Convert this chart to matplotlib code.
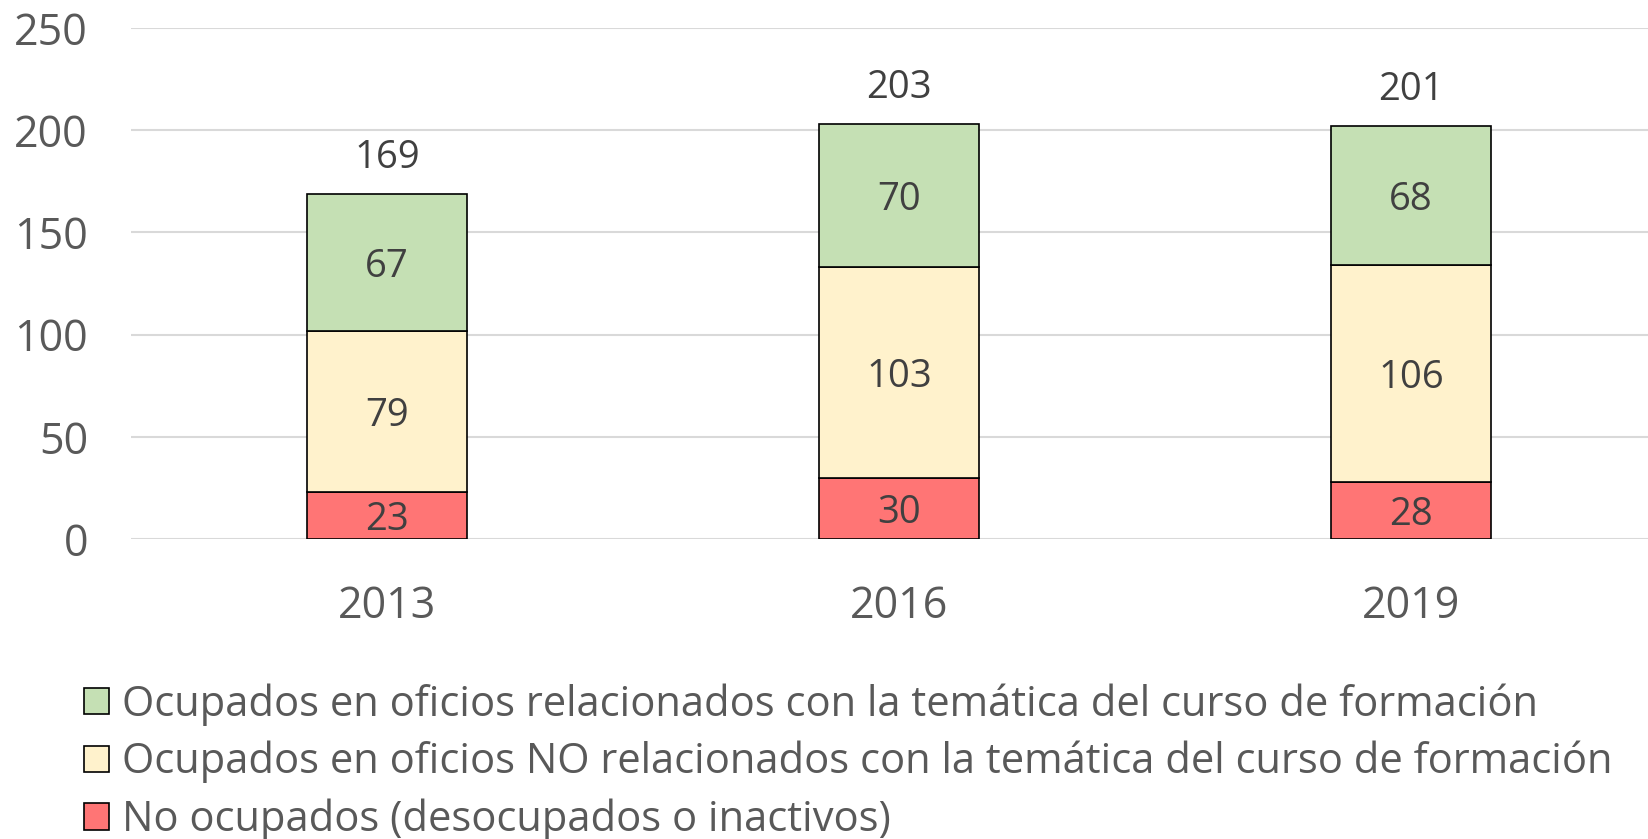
import matplotlib
matplotlib.use("Agg")
import matplotlib.pyplot as plt
import numpy as np

years = ["2013", "2016", "2019"]
no_ocupados = [23, 30, 28]
no_relacionados = [79, 103, 106]
relacionados = [67, 70, 68]
totales = [169, 203, 201]
labels = [
    "Ocupados en oficios relacionados con la temática del curso de formación",
    "Ocupados en oficios NO relacionados con la temática del curso de formación",
    "No ocupados (desocupados o inactivos)",
]
colors = ["#C5E0B4", "#FFF2CC", "#FF7575"]

plt.rcParams['font.family'] = ['Open Sans', 'DejaVu Sans']

W, H = 1648, 839
fig = plt.figure(figsize=(W / 100, H / 100), dpi=100)
ax = fig.add_axes([131 / W, 1 - 539 / H, 1 - 131 / W, (539 - 28) / H])

x = np.arange(len(years))
bw = 0.314
b1 = ax.bar(x, no_ocupados, bw, color=colors[2], edgecolor="black", linewidth=1.2, zorder=3)
b2 = ax.bar(x, no_relacionados, bw, bottom=no_ocupados, color=colors[1], edgecolor="black", linewidth=1.2, zorder=3)
bottom3 = np.array(no_ocupados) + np.array(no_relacionados)
b3 = ax.bar(x, relacionados, bw, bottom=bottom3, color=colors[0], edgecolor="black", linewidth=1.2, zorder=3)

lab_color = "#404040"
fs_lab = 27.5
fs_tick = 31
bottoms = [np.zeros(3), np.array(no_ocupados), bottom3]
for vals, bot in zip([no_ocupados, no_relacionados, relacionados], bottoms):
    for xi, v, b in zip(x, vals, bot):
        ax.annotate(str(v), (xi, b + v / 2), xytext=(0, -3.5), textcoords="offset points",
                    ha="center", va="center", fontsize=fs_lab, color=lab_color, zorder=4)
for xi, base, t in zip(x, bottom3 + np.array(relacionados), totales):
    ax.annotate(str(t), (xi, base + 20), xytext=(0, -3.5), textcoords="offset points",
                ha="center", va="center", fontsize=fs_lab, color=lab_color)

ax.set_xlim(-0.5, (1648 - 387) / 512)
ax.set_ylim(0, 250)
ax.set_yticks([0, 50, 100, 150, 200, 250])
ax.set_xticks(x)
ax.set_xticklabels(years)
ax.tick_params(axis="both", length=0, labelsize=fs_tick, labelcolor="#595959")
ax.tick_params(axis="x", pad=33)
ax.tick_params(axis="y", pad=31)
ax.yaxis.grid(True, color="#D9D9D9", linewidth=1.5, zorder=0)
for s in ax.spines.values():
    s.set_visible(False)

handles = [b3, b2, b1]
leg = fig.legend(handles, labels, loc="upper left", bbox_to_anchor=(84 / W, 1 - 683 / H),
                 frameon=False, fontsize=30, labelcolor="#595959",
                 handlelength=0.6, handleheight=0.6, handletextpad=0.32, labelspacing=0.37,
                 borderpad=0, borderaxespad=0)

fig.savefig("out.png", dpi=100)
